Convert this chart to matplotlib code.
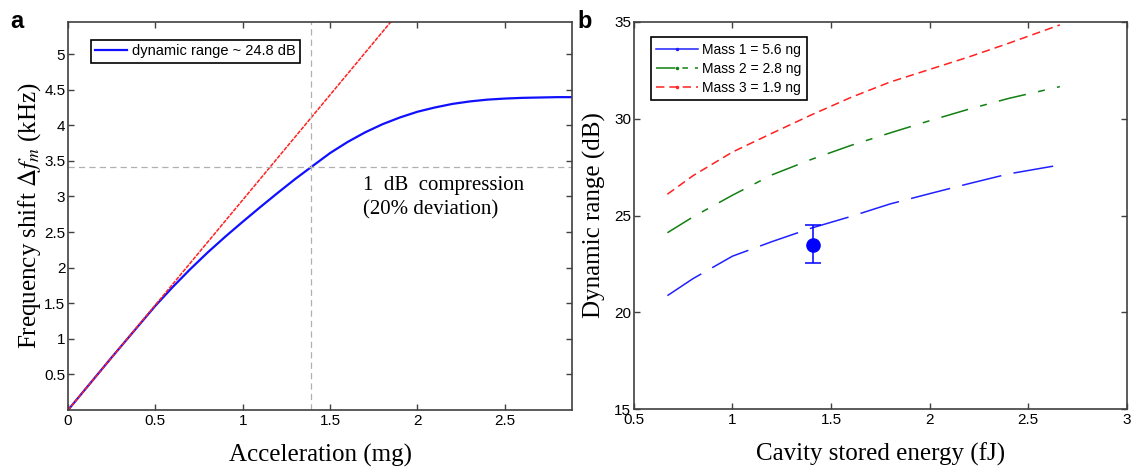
import matplotlib.pyplot as plt
from matplotlib.lines import Line2D

plt.rcParams['font.family'] = ['Liberation Sans', 'DejaVu Sans']
plt.rcParams['mathtext.fontset'] = 'stix'
plt.rcParams['lines.scale_dashes'] = False

# panel a: frequency shift vs acceleration
accel = [0, 0.25, 0.5, 0.6, 0.7, 0.8, 0.9, 1.0, 1.1, 1.2, 1.3, 1.39, 1.5, 1.6,
         1.7, 1.8, 1.9, 2.0, 2.1, 2.2, 2.3, 2.4, 2.5, 2.6, 2.7, 2.8, 2.89]
shift = [0, 0.74, 1.465, 1.73, 1.98, 2.215, 2.435, 2.645, 2.85, 3.05, 3.245, 3.41, 3.61, 3.765,
         3.90, 4.015, 4.11, 4.19, 4.25, 4.30, 4.335, 4.36, 4.375, 4.385, 4.39, 4.395, 4.395]
lin_x = [0, 1.86]
lin_y = [0, 5.49]
comp_x = 1.39
comp_y = 3.41

# panel b: dynamic range vs stored energy
energy = [0.67, 0.8, 1.0, 1.2, 1.4, 1.6, 1.8, 2.0, 2.2, 2.4, 2.66]
dr_m1 = [20.86, 21.74, 22.9, 23.65, 24.35, 24.95, 25.6, 26.13, 26.65, 27.15, 27.61]
dr_m2 = [24.11, 24.93, 26.05, 27.1, 27.9, 28.62, 29.27, 29.9, 30.5, 31.05, 31.66]
dr_m3 = [26.10, 27.06, 28.28, 29.25, 30.2, 31.1, 31.9, 32.55, 33.2, 33.9, 34.85]
meas_x = 1.406
meas_y = 23.48
meas_err = [[0.95], [1.03]]

serif = 'Liberation Serif'
spine_c = '#404040'

fig = plt.figure(figsize=(11.36, 4.68), dpi=100)
ax1 = fig.add_axes([0.0599, 0.1239, 0.4437, 0.829])
ax2 = fig.add_axes([0.558, 0.126, 0.434, 0.827])

for ax in (ax1, ax2):
    for s in ax.spines.values():
        s.set_color(spine_c)
        s.set_linewidth(1.2)
    ax.tick_params(direction='in', length=4, width=1, color=spine_c,
                   top=True, right=True, labelsize=11, pad=3)

# ---- a ----
ax1.plot(accel, shift, color='#1010ff', lw=1.6, label='dynamic range ~ 24.8 dB')
ax1.plot(lin_x, lin_y, color='#ff2020', lw=1.1, dashes=(3, 0.8))
ax1.axvline(comp_x, color='#b0b0b0', lw=0.9, dashes=(4.5, 3))
ax1.axhline(comp_y, color='#b0b0b0', lw=0.9, dashes=(4.5, 3))
ax1.text(1.69, 3.09, '1  dB  compression', family=serif, fontsize=15)
ax1.text(1.69, 2.74, '(20% deviation)', family=serif, fontsize=15)
ax1.set_xlim(0, 2.885)
ax1.set_ylim(0, 5.45)
ax1.set_xticks([0, 0.5, 1, 1.5, 2, 2.5])
ax1.set_xticklabels(['0', '0.5', '1', '1.5', '2', '2.5'])
ax1.set_yticks([0.5, 1, 1.5, 2, 2.5, 3, 3.5, 4, 4.5, 5])
ax1.set_yticklabels(['0.5', '1', '1.5', '2', '2.5', '3', '3.5', '4', '4.5', '5'])
ax1.tick_params(axis='y', pad=2)
ax1.set_xlabel('Acceleration (mg)', family=serif, fontsize=18, labelpad=11)
ax1.set_ylabel(r'Frequency shift $\Delta f_m$ (kHz)', family=serif, fontsize=18, labelpad=1)
leg1 = ax1.legend(loc='upper left', bbox_to_anchor=(0.045, 0.954), borderaxespad=0,
                  fontsize=10.5, handlelength=2.2, handletextpad=0.3,
                  borderpad=0.3, fancybox=False, framealpha=1)
leg1.get_frame().set_edgecolor('black')
leg1.get_frame().set_linewidth(1.2)
fig.text(0.009, 0.955, 'a', fontsize=17, fontweight='bold', va='center')

# ---- b ----
ax2.plot(energy, dr_m1, color='#2020ff', lw=1.1, dashes=(29, 9))
ax2.plot(energy, dr_m2, color='#108010', lw=1.1, dashes=(20, 9, 5, 9))
ax2.plot(energy, dr_m3, color='#ff2020', lw=1.1, dashes=(6, 3.6))
ax2.errorbar([meas_x], [meas_y], yerr=meas_err, fmt='o', color='#0000ff',
             markersize=9.5, capsize=5.5, elinewidth=1.1, capthick=1.1)
ax2.set_xlim(0.5, 3)
ax2.set_ylim(15, 35)
ax2.set_xticks([0.5, 1, 1.5, 2, 2.5, 3])
ax2.set_xticklabels(['0.5', '1', '1.5', '2', '2.5', '3'])
ax2.set_yticks([15, 20, 25, 30, 35])
ax2.tick_params(axis='y', pad=2)
ax2.set_xlabel('Cavity stored energy (fJ)', family=serif, fontsize=18, labelpad=11)
ax2.set_ylabel('Dynamic range (dB)', family=serif, fontsize=18, labelpad=6)
handles = [
    Line2D([], [], color='#2020ff', lw=1.1, marker='.', markersize=3),
    Line2D([], [], color='#108010', lw=1.1, dashes=(14, 5, 4, 5), marker='.', markersize=3),
    Line2D([], [], color='#ff2020', lw=1.1, dashes=(6, 3.6), marker='.', markersize=3),
]
leg2 = ax2.legend(handles, ['Mass 1 = 5.6 ng', 'Mass 2 = 2.8 ng', 'Mass 3 = 1.9 ng'],
                  loc='upper left', bbox_to_anchor=(0.034, 0.96), borderaxespad=0,
                  fontsize=10, handlelength=3.0, handletextpad=0.3, labelspacing=0.35,
                  borderpad=0.4, fancybox=False, framealpha=1)
leg2.get_frame().set_edgecolor('black')
leg2.get_frame().set_linewidth(1.2)
fig.text(0.508, 0.955, 'b', fontsize=17, fontweight='bold', va='center')

fig.savefig('out.png', dpi=100)
